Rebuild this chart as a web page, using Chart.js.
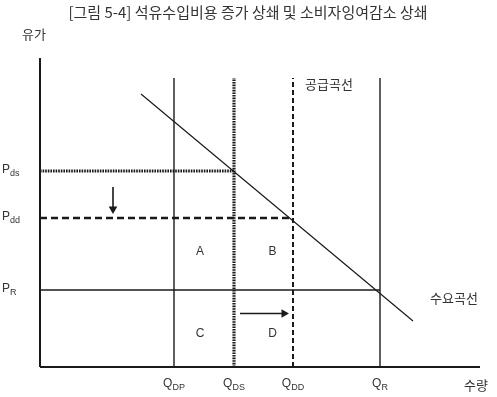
<!DOCTYPE html>
<html>
<head>
<meta charset="utf-8">
<script src="https://cdn.jsdelivr.net/npm/chart.js@4"></script>
<style>
  html, body { margin: 0; padding: 0; background: #fff; }
  canvas { display: block; }
</style>
</head>
<body>
<canvas id="chart" width="497" height="397"></canvas>
<script>
// Diagram values (abstract units, origin at the axis corner)
const titleText = '[그림 5-4] 석유수입비용 증가 상쇄 및 소비자잉여감소 상쇄';
const yAxisTitle = '유가';
const xAxisTitle = '수량';
const axisMaxX = 440;
const axisMaxY = 309;
const lineTop = 289;

const quantityNames = ['DP', 'DS', 'DD', 'R'];
const quantityValues = [134, 194, 253, 340];

const priceNames = ['ds', 'dd', 'R'];
const priceValues = [196, 149, 77];

const demandX = [101, 373];
const demandY = [273, 46];

const areaNames = ['A', 'B', 'C', 'D'];
const supplyLabel = '공급곡선';
const demandLabel = '수요곡선';

const KR = '"Noto Sans CJK KR", "Noto Sans", sans-serif';
const LAT = '"Liberation Sans", Arial, sans-serif';
const INK = '#1a1a1a';

function seg(x0, y0, x1, y1, width, dash) {
  return {
    data: [{ x: x0, y: y0 }, { x: x1, y: y1 }],
    showLine: true,
    borderColor: INK,
    borderWidth: width,
    borderDash: dash || [],
    pointRadius: 0,
    clip: false
  };
}

function arrow(x0, y0, x1, y1, rot) {
  return {
    data: [{ x: x0, y: y0 }, { x: x1, y: y1 }],
    showLine: true,
    borderColor: INK,
    backgroundColor: INK,
    borderWidth: 1.6,
    pointStyle: 'triangle',
    pointRadius: [0, 5],
    pointRotation: rot,
    pointBorderWidth: 0,
    clip: false
  };
}

const [qDP, qDS, qDD, qR] = quantityValues;
const [pDS, pDD, pR] = priceValues;

const datasets = [
  seg(0, 0, 0, axisMaxY, 2),
  seg(0, 0, axisMaxX, 0, 2),
  seg(qDP, 0, qDP, lineTop, 1.4),
  seg(qDS, 0, qDS, lineTop, 3.2, [1.6, 1]),
  seg(qDD, 0, qDD, lineTop, 2, [5, 3]),
  seg(qR, 0, qR, lineTop, 1.4),
  seg(0, pDS, qDS, pDS, 2.8, [1.6, 1]),
  seg(0, pDD, qDD, pDD, 2.5, [7, 4]),
  seg(0, pR, qR, pR, 1.3),
  seg(demandX[0], demandY[0], demandX[1], demandY[1], 1.2),
  arrow(73, pDS - 16, 73, pDD + 9, 180),
  arrow(qDS + 6, pR / 2 + 15, qDD - 9, pR / 2 + 15, 90)
];

function subText(ctx, main, sub, x, y, size) {
  ctx.font = size + 'px ' + LAT;
  ctx.textAlign = 'left';
  ctx.textBaseline = 'middle';
  const w = ctx.measureText(main).width;
  ctx.fillText(main, x, y);
  ctx.font = Math.round(size * 0.72) + 'px ' + LAT;
  ctx.fillText(sub, x + w, y + size * 0.3);
  return w + ctx.measureText(sub).width;
}

const textPlugin = {
  id: 'texts',
  afterDraw(chart) {
    const ctx = chart.ctx;
    const xs = chart.scales.x;
    const ys = chart.scales.y;
    ctx.save();
    ctx.fillStyle = '#333';

    ctx.font = '15px ' + KR;
    ctx.textAlign = 'center';
    ctx.textBaseline = 'middle';
    ctx.fillText(titleText, 248, 12);

    ctx.textAlign = 'left';
    ctx.font = '13px ' + KR;
    ctx.fillText(yAxisTitle, 22, 34);
    ctx.fillText(xAxisTitle, xs.getPixelForValue(axisMaxX) - 16, 385);

    // price labels on the left
    priceNames.forEach((n, i) => {
      subText(ctx, 'P', n, 2, ys.getPixelForValue(priceValues[i]) - 1, 12);
    });

    // quantity labels under the axis
    quantityNames.forEach((n, i) => {
      ctx.font = '12px ' + LAT;
      const w1 = ctx.measureText('Q').width;
      ctx.font = '9px ' + LAT;
      const w2 = ctx.measureText(n).width;
      const cx = xs.getPixelForValue(quantityValues[i]);
      subText(ctx, 'Q', n, cx - (w1 + w2) / 2, 384, 12);
    });

    // area letters
    ctx.font = '12px ' + LAT;
    ctx.textAlign = 'center';
    ctx.textBaseline = 'middle';
    const colA = xs.getPixelForValue((qDP + qDS) / 2) - 4;
    const colB = xs.getPixelForValue((qDS + qDD) / 2) + 9;
    const rowTop = ys.getPixelForValue((pDD + pR) / 2) - 2;
    const rowBot = ys.getPixelForValue(pR / 2) + 5;
    ctx.fillText(areaNames[0], colA, rowTop);
    ctx.fillText(areaNames[1], colB, rowTop);
    ctx.fillText(areaNames[2], colA, rowBot);
    ctx.fillText(areaNames[3], colB, rowBot);

    // curve names
    ctx.font = '13px ' + KR;
    ctx.textAlign = 'left';
    ctx.fillText(supplyLabel, xs.getPixelForValue(qDD) + 12, ys.getPixelForValue(lineTop) + 6);
    ctx.fillText(demandLabel, xs.getPixelForValue(demandX[1]) + 17, ys.getPixelForValue(pR) + 8);

    ctx.restore();
  }
};

new Chart(document.getElementById('chart').getContext('2d'), {
  type: 'scatter',
  data: { datasets: datasets },
  options: {
    responsive: false,
    animation: false,
    layout: { padding: { left: 40, right: 17, top: 58, bottom: 30 } },
    scales: {
      x: { type: 'linear', display: false, min: 0, max: axisMaxX },
      y: { type: 'linear', display: false, min: 0, max: axisMaxY }
    },
    plugins: {
      legend: { display: false },
      tooltip: { enabled: false },
      title: { display: false }
    }
  },
  plugins: [textPlugin]
});
</script>
</body>
</html>
